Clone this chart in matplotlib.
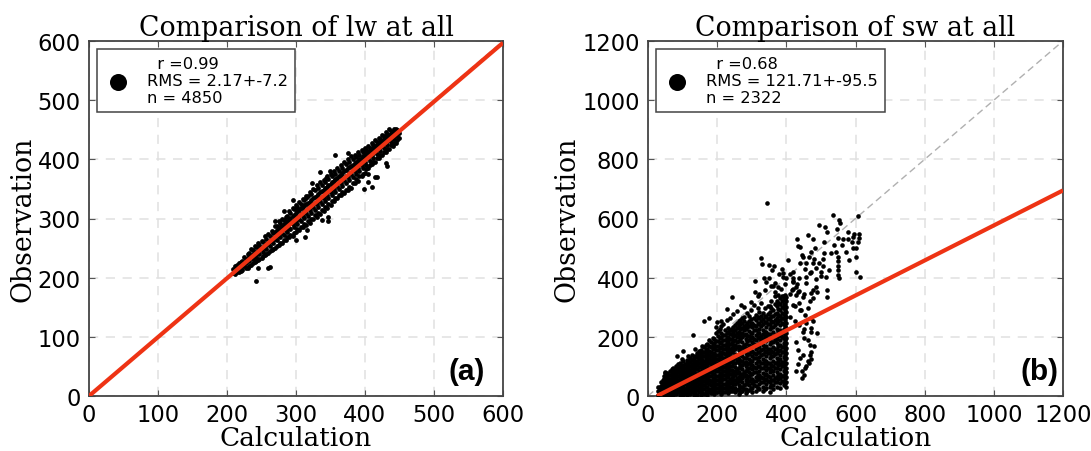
import matplotlib
matplotlib.use("Agg")
import matplotlib.pyplot as plt

lw_ticks = [0, 100, 200, 300, 400, 500, 600]
sw_ticks = [0, 200, 400, 600, 800, 1000, 1200]
lw_title = "Comparison of lw at all"
sw_title = "Comparison of sw at all"
lw_stats = "  r =0.99\nRMS = 2.17+-7.2\nn = 4850"
sw_stats = "  r =0.68\nRMS = 121.71+-95.5\nn = 2322"
lw_fit_x = [0, 600]
lw_fit_y = [0, 597]
sw_fit_x = [26, 1200]
sw_fit_y = [0, 695]

# observation values grouped by calculation value
lw_columns = [
 (208,[208,214]),(212,[206,213,219]),(217,[209,216,224]),(222,[213,220,228]),
 (227,[216,224,232]),(232,[220,228,236,241]),(237,[224,232,240,247]),(242,[228,235,243,251]),
 (247,[232,240,248,256]),(252,[236,244,252,261]),(257,[240,248,257,266]),(262,[245,253,262,271]),
 (267,[249,258,267,276]),(272,[254,263,272,281,287]),(277,[259,268,277,286,292]),(282,[263,272,282,291,298]),
 (287,[268,277,287,296,304]),(292,[272,282,292,301,309]),(297,[276,286,297,306,316]),(302,[282,291,302,312,320]),
 (307,[286,296,307,317,325]),(312,[291,301,312,322,331]),(317,[295,305,317,327,338]),(322,[300,310,322,332,342]),
 (327,[306,315,327,337,348]),(332,[310,320,332,342,352]),(337,[315,325,337,347,357]),(342,[320,330,342,352,362]),
 (347,[325,335,347,357,367]),(352,[330,340,352,362,372]),(357,[335,345,357,367,376]),(362,[340,350,362,372,381]),
 (367,[344,355,367,377,386]),(372,[349,360,372,382,392]),(377,[354,365,377,387,396]),(382,[360,370,382,391,400]),
 (387,[366,375,387,396,404]),(392,[371,380,392,400,408]),(397,[376,385,397,405,412]),(402,[384,391,402,410,416]),
 (407,[390,397,407,415,420]),(412,[396,403,412,419,425]),(417,[402,409,417,424,430]),(422,[407,414,422,429,434]),
 (427,[413,420,427,434,439]),(432,[418,425,432,438,443]),(437,[424,430,437,443,448]),(442,[427,434,442,447,451]),
 (447,[433,439,445,450]),
]
lw_columns_b = [
 (214,[210,222]),(220,[211,226]),(225,[219,235]),(230,[217,231,240]),(235,[222,236,248]),(240,[226,239,253]),
 (245,[230,244,259]),(250,[233,248,262]),(255,[238,252,270]),(260,[241,257,274]),(265,[246,262,279]),
 (270,[250,265,277,288]),(275,[255,270,283,296]),(280,[258,275,288,300]),(285,[264,280,293,303]),
 (290,[268,284,298,312]),(295,[271,290,304,317]),(300,[277,295,309,322]),(305,[280,299,314,328]),
 (310,[286,304,319,333]),(315,[289,310,324,338]),(320,[293,314,328,345]),(325,[299,320,335,350]),
 (330,[303,324,338,356]),(335,[307,330,344,361]),(340,[313,335,349,365]),(345,[318,340,354,371]),
 (350,[323,344,358,376]),(355,[330,350,364,380]),(360,[334,355,369,385]),(365,[339,360,374,391]),
 (370,[343,365,380,396]),(375,[348,370,385,400]),(380,[352,376,388,405]),(385,[360,380,393,408]),
 (390,[363,386,398,412]),(395,[371,391,403,416]),(400,[377,396,408,420]),(405,[385,402,413,423]),
 (410,[392,408,418,428]),(415,[396,412,422,433]),(420,[402,417,426,436]),(425,[408,423,431,441]),
 (430,[412,428,436,446]),(435,[417,432,441,452]),(440,[423,436,446]),(445,[428,441,452]),(449,[436,444]),
]
lw_extra_x = [242,260,245,263,313,316,337,347,347,357,376,335,349,414,417,405,430,432,283,269,315,343,296,323,300,404,399,410]
lw_extra_y = [194,217,216,218,268,280,298,303,295,407,411,379,380,370,370,375,393,389,313,296,335,368,331,360,263,362,350,354]

# observation values grouped by calculation value
sw_columns = [
 (30,[5,18,32]),(38,[6,20,35,48]),(46,[4,16,28,42,58,68]),(55,[3,14,26,40,52,66,78]),
 (64,[5,18,30,44,58,70,85]),(73,[4,15,28,40,55,68,82,93]),(82,[6,20,33,47,60,74,88,100]),
 (92,[3,16,30,44,57,70,84,97,110]),(102,[5,18,32,46,60,73,87,100,118]),(112,[4,16,30,43,57,71,85,98,112,122]),
 (122,[6,19,33,47,60,74,88,102,115,128]),(132,[3,17,31,45,59,72,86,100,113,127]),(142,[5,20,34,48,62,75,90,104,118,132,146]),
 (152,[4,16,30,44,58,72,86,100,114,128,142,155]),(162,[8,22,36,50,64,78,92,106,120,134,148,165]),
 (172,[5,18,32,46,60,75,88,103,117,131,145,160,176]),(182,[10,24,38,52,66,80,94,108,122,136,150,166,182]),
 (192,[6,20,34,47,62,76,90,104,118,132,147,162,178,192]),(202,[12,26,40,55,69,83,97,111,125,139,155,170,186,204,220]),
 (212,[8,20,35,50,64,78,92,106,120,134,150,165,182,198,214,236]),(222,[14,28,42,56,70,85,99,113,127,142,158,172,188,205,222]),
 (232,[10,24,38,52,66,80,94,108,124,138,154,168,185,200,216,230]),(242,[18,32,46,60,75,89,103,118,132,148,162,178,194,210,226]),
 (252,[12,26,40,55,70,84,98,112,128,142,158,174,190,206,222,240]),(262,[8,22,36,50,64,80,94,110,124,138,154,170,186,202,218,235,252]),
 (272,[16,30,46,60,74,90,104,120,134,150,166,182,198,214,230,246,262]),(282,[10,24,40,54,70,84,100,114,130,146,162,176,194,210,226,240]),
 (292,[20,36,50,66,82,96,112,126,142,158,172,188,204,220,236,252,270]),(302,[12,28,44,58,74,90,104,120,136,152,168,184,200,214,232,248]),
 (312,[18,34,50,64,80,96,110,128,142,158,174,190,206,222,238,256,275]),(322,[24,40,56,70,86,102,118,132,148,164,180,196,212,228,244,262,284]),
 (332,[16,32,48,62,78,94,110,126,142,158,174,192,208,224,242,260,280]),(342,[26,42,58,74,88,104,120,136,152,168,186,202,218,234,250,268]),
 (352,[14,30,46,64,80,96,112,128,144,160,176,192,210,226,244,262,284,304]),(362,[22,38,54,70,86,102,118,134,150,166,182,198,216,232,250,270,292]),
 (372,[32,48,64,80,96,112,128,144,160,178,194,210,228,246,264,282,304,322]),(382,[28,44,60,76,92,108,124,140,156,172,190,206,222,240,256,272,290,310,330]),
 (392,[36,52,68,84,100,116,132,148,164,180,196,212,228,244,262,278,296,312,328,338]),(400,[32,48,64,80,96,112,128,146,162,178,196,214,230,248,266,284,302,320,334]),
]
sw_columns_b = [
 (34,[12,25]),(42,[12,27,41,55]),(50,[9,22,35,49,63,80]),(59,[9,20,33,47,59,72]),(68,[11,24,37,51,64,78,92]),
 (77,[10,22,35,48,62,76,88]),(87,[13,27,40,54,67,81,94,108]),(97,[10,24,37,51,64,77,91,104,125]),
 (107,[11,25,39,53,66,80,94,107]),(117,[10,23,37,50,64,78,92,105,120,134]),(127,[12,26,40,54,67,81,95,108,122,138]),
 (137,[10,24,38,52,65,79,93,107,120,136,158]),(147,[12,27,41,55,69,83,97,111,125,139,152]),
 (157,[10,23,37,51,65,79,93,107,121,135,150,168]),(167,[15,29,43,57,71,85,99,113,127,141,156,172]),
 (177,[12,25,39,53,67,82,95,110,124,138,152,168,190]),(187,[17,31,45,59,73,87,101,115,129,143,158,174,196]),
 (197,[13,27,41,54,69,83,97,111,125,140,154,170,185,212,232]),(207,[19,33,47,62,76,90,104,118,132,147,162,178,195,228]),
 (217,[15,27,42,57,71,85,99,113,127,146,158,174,190,206,244]),(227,[21,35,49,63,77,92,106,120,134,150,165,180,196,214,258]),
 (237,[17,31,45,59,73,87,101,116,131,146,160,176,193,208,222,262]),(247,[25,39,53,67,82,110,125,155,170,186,202,218,234,276]),
 (257,[19,47,62,77,91,120,135,166,182,198,214,230,248,288]),(267,[15,29,57,72,102,117,146,162,194,210,226,244,258]),
 (277,[23,38,67,82,112,127,158,174,206,222,238,254,268,300]),(287,[17,47,62,92,107,138,154,185,202,233,248,282]),
 (297,[28,58,74,104,119,150,165,196,212,244,260,292]),(307,[36,51,82,97,128,144,176,192,223,240,264,308]),
 (317,[26,57,72,103,118,150,166,198,214,246,268,296,338]),(327,[48,63,94,110,140,156,188,204,236,252,272,314]),
 (337,[24,55,70,102,118,150,166,200,216,250,270,296,358]),(347,[50,66,96,112,144,160,194,210,242,259,276,304]),
 (357,[38,54,88,104,136,152,184,200,234,252,272,296,320,372]),(367,[46,62,94,110,142,158,190,206,240,258,278,310,338]),
 (377,[56,72,104,120,152,169,202,219,255,273,295,316,340]),(387,[52,68,100,116,148,164,198,214,248,264,281,300,320,338]),
 (396,[44,60,76,92,108,124,140,155,171,188,204,220,238,256,274,292,310,328,340]),
]
sw_extra_x = [130,162,176,200,212,100,83,49,243,227,270,297,345,326,330,351,364,359,310,335,342,366,308,322,
 445,428,454,462,467,467,462,447,433,428,447,471,490,457,476,462,443,438,419,428,447,476,471,519,519,486,457,428,
 400,390,419,438,457,467,486,505,524,515,404,390,419,447,457,476,495,509,528,543,549,549,549,549,549,551,582,601,601,613,
 572,592,606,611,577,577,592,563,549,546,553,556,534,606,495,511,517,462,476,508,433,471,483,539,
 412,424,436,450,470,455,440,425,470,452,480,415,430,418,437,452,467,478,490,500,410,420,434,
 368,375,385,395,420,410,455,470,485,500,440,465,505,562,590,596,600,610,430,440,360,350,378,388,445,480,
 445,450,458,465,472,470,440,435]
sw_extra_y = [207,252,263,250,254,151,134,78,336,295,306,319,652,465,445,443,441,426,390,398,387,381,350,344,
 60,83,94,117,139,173,190,139,156,184,218,218,212,246,252,297,291,314,308,342,336,330,347,336,359,370,381,370,
 398,403,398,398,403,415,432,438,426,403,460,415,420,471,448,448,448,482,482,488,470,455,440,425,410,398,460,471,420,403,
 488,499,522,546,555,532,538,532,535,564,595,586,611,608,578,572,553,544,530,521,507,488,501,510,
 268,255,240,228,262,275,290,304,230,195,170,360,378,385,355,345,322,360,350,405,345,362,352,
 350,368,362,378,390,412,430,420,395,418,450,470,462,512,520,548,500,535,530,505,372,400,412,430,478,462,
 84,72,100,110,125,150,130,108]

def expand(cols):
    xs, ys = [], []
    for cx, vals in cols:
        for v in vals:
            xs.append(cx)
            ys.append(v)
    return xs, ys

plt.rcParams["font.family"] = "DejaVu Sans"
fig = plt.figure(figsize=(10.91, 4.52), dpi=100)
W, H = 1091, 452
ax1 = fig.add_axes([89/W, 1-397/H, 414/W, 355/H])
ax2 = fig.add_axes([648/W, 1-397/H, 415/W, 355/H])

def panel(ax, cols, cols_b, ex, ey, ticks, title, stats, fx, fy, tag, tagx, msize):
    xa, ya = expand(cols)
    xb, yb = expand(cols_b)
    xs = xa + xb + ex
    ys = ya + yb + ey
    top = ticks[-1]
    ax.plot([0, top], [0, top], ls=(0, (5, 3)), lw=1, color="#b0b0b0", zorder=2)
    ax.scatter(xs, ys, s=msize, c="black", linewidths=0, zorder=3, label=stats)
    ax.plot(fx, fy, color="#ee3314", lw=3, zorder=4, solid_capstyle="butt")
    ax.set_xlim(0, top)
    ax.set_ylim(0, top)
    ax.set_xticks(ticks)
    ax.set_yticks(ticks)
    ax.grid(True, ls=(0, (6, 5)), lw=1.1, color="#e0e0e0", zorder=0)
    ax.set_axisbelow(True)
    ax.tick_params(direction="in", length=4, width=0.8, color="#555555", labelsize=16.3,
                   top=True, right=True, pad=6)
    ax.tick_params(axis="x", pad=5)
    for s in ax.spines.values():
        s.set_color("#444444")
        s.set_linewidth(1.3)
    ax.set_title(title, family="DejaVu Serif", fontsize=19.3, pad=4)
    ax.set_xlabel("Calculation", family="DejaVu Serif", fontsize=19, labelpad=-1)
    ax.set_ylabel("Observation", family="DejaVu Serif", fontsize=19.3, labelpad=1)
    leg = ax.legend(loc="upper left", bbox_to_anchor=(0.019, 0.977), borderaxespad=0,
                    scatterpoints=1, markerscale=3.4 * (13 / msize) ** 0.5, fontsize=11.7,
                    fancybox=False, framealpha=1, edgecolor="#444444", handletextpad=0.85,
                    labelspacing=0, borderpad=0.4, handlelength=1.85)
    leg.get_frame().set_linewidth(1.1)
    ax.text(tagx, 0.07, tag, transform=ax.transAxes, ha="right", va="center",
            family="Liberation Sans", fontweight="bold", fontsize=21.5, zorder=6)

panel(ax1, lw_columns, lw_columns_b, lw_extra_x, lw_extra_y, lw_ticks, lw_title, lw_stats,
      lw_fit_x, lw_fit_y, "(a)", 0.957, 12)
panel(ax2, sw_columns, sw_columns_b, sw_extra_x, sw_extra_y, sw_ticks, sw_title, sw_stats,
      sw_fit_x, sw_fit_y, "(b)", 0.99, 11)

fig.savefig("out.png", dpi=100, facecolor="white")
